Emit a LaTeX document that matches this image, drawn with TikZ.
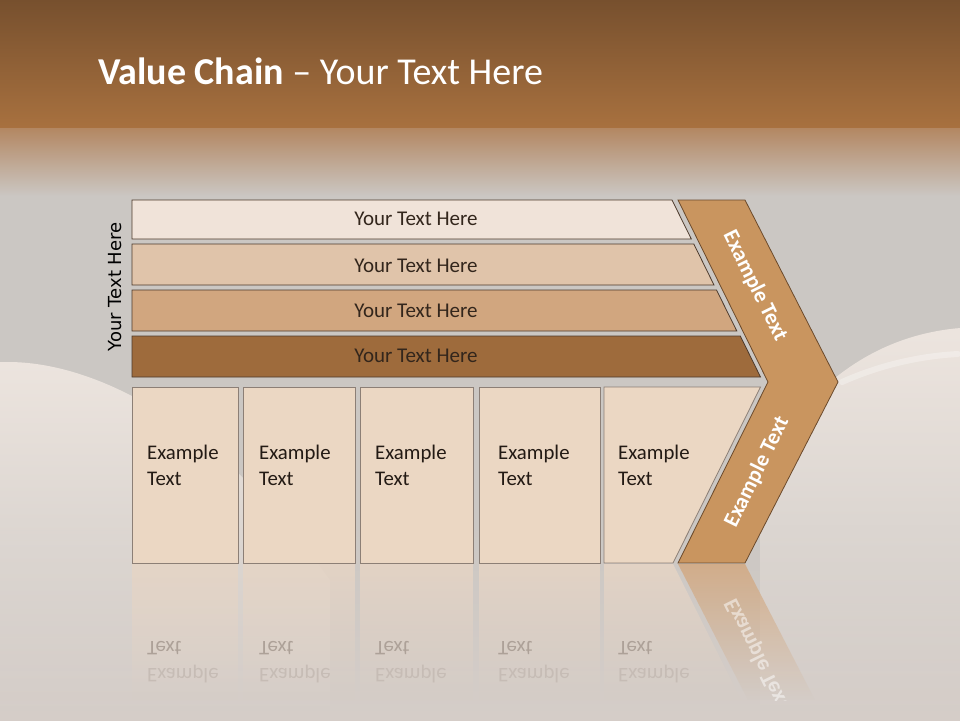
\documentclass[tikz,border=0pt]{standalone}
\usepackage{fontspec}
\usetikzlibrary{fadings}
\setmainfont{Carlito}
\newfontfamily\dejavu{DejaVu Sans}
\definecolor{bgcol}{HTML}{CBC7C3}
\definecolor{bgbot}{HTML}{D5CDC8}
\definecolor{hdrA}{HTML}{77502E}
\definecolor{hdrB}{HTML}{A8713F}
\definecolor{hdrC}{HTML}{B38762}
\definecolor{hillhi}{HTML}{EDE5DF}
\definecolor{bA}{HTML}{F0E3D9}
\definecolor{bB}{HTML}{E0C4AA}
\definecolor{bC}{HTML}{D1A67F}
\definecolor{bD}{HTML}{9E6B3C}
\definecolor{barline}{HTML}{4D3A2C}
\definecolor{colfill}{HTML}{EBD7C3}
\definecolor{colline}{HTML}{8C7F76}
\definecolor{chev}{HTML}{C9955F}
\definecolor{chevline}{HTML}{6B4A2C}
\definecolor{bartxt}{HTML}{33261C}
\definecolor{coltxt}{HTML}{231A14}
\definecolor{reflcol}{HTML}{E5D4C5}
\definecolor{reflchev}{HTML}{D2AA84}
\definecolor{refltxtA}{HTML}{ADA198}
\definecolor{refltxtB}{HTML}{C6BCB5}
\tikzfading[name=hillfade, top color=transparent!0, bottom color=transparent!100]
\tikzset{
  bar/.style={draw=barline, line width=0.8pt},
  colbox/.style={draw=colline, fill=colfill, line width=0.8pt},
  bartext/.style={font=\fontsize{21}{25}\selectfont, text=bartxt, inner sep=0},
  coltext/.style={font=\fontsize{20.8}{26}\selectfont, text=coltxt, align=left, anchor=west, inner sep=0},
  chevtext/.style={font=\bfseries\fontsize{22}{26}\selectfont, text=white, inner sep=0},
  refltext/.style={font=\fontsize{20.8}{26}\selectfont, anchor=west, inner sep=0, yscale=-1},
}
\begin{document}
\begin{tikzpicture}[x=1pt,y=-1pt]
\useasboundingbox (0,0) rectangle (960,720);
% background
\fill[bgcol] (0,0) rectangle (960,720);
\shade[top color=hdrA, bottom color=hdrB] (0,0) rectangle (960,128);
\shade[top color=hdrC, bottom color=bgcol] (0,128) rectangle (960,196);
\shade[top color=bgcol, bottom color=bgbot] (0,520) rectangle (960,720);
% hills
\fill[hillhi, path fading=hillfade] (0,362) .. controls (80,358) and (210,410) .. (330,580) -- (330,720) -- (0,720) -- cycle;
\fill[hillhi, path fading=hillfade] (760,470) .. controls (820,362) and (900,333) .. (960,328) -- (960,720) -- (760,720) -- cycle;
\draw[white, opacity=0.3, line width=6pt, line cap=round] (842,382) .. controls (880,365) and (920,356) .. (958,354);
% reflection
\begin{scope}
\clip (0,564) rectangle (960,720);
\foreach \a/\b in {132/238, 243/355, 360/473, 479/600} {
  \fill[reflcol, path fading=hillfade, opacity=0.9] (\a,564) rectangle (\b,700);
}
\fill[reflcol, path fading=hillfade, opacity=0.9] (604,564) -- (673,564) -- (741,700) -- (604,700) -- cycle;
\fill[reflchev, path fading=hillfade, opacity=0.9] (678,564) -- (745,564) -- (815,700) -- (748,700) -- cycle;
\foreach \x [count=\i] in {147,259,375,498,618} {
  \node[refltext, text=refltxtA] (rt\i) at (\x,648) {Text};
  \node[refltext, text=refltxtB] (re\i) at (\x,674) {Example};
}
\begin{scope}
\clip (678,564) -- (745,564) -- (815,700) -- (748,700) -- cycle;
\node[chevtext, yscale=-1, rotate=63.7, text=white, opacity=0.5] (rchev) at (757,654) {Example Text};
\end{scope}
\end{scope}
% bars
\draw[bar, fill=bA] (132,200) -- (672,200) -- (691.3,239) -- (132,239) -- cycle;
\draw[bar, fill=bB] (132,244) -- (693.8,244) -- (714,285) -- (132,285) -- cycle;
\draw[bar, fill=bC] (132,290) -- (716.5,290) -- (736.8,331) -- (132,331) -- cycle;
\draw[bar, fill=bD] (132,336) -- (740.3,336) -- (760.5,377) -- (132,377) -- cycle;
% columns
\draw[colbox] (132,387) rectangle (238,563);
\draw[colbox] (243,387) rectangle (355,563);
\draw[colbox] (360,387) rectangle (473,563);
\draw[colbox] (479,387) rectangle (600,563);
\draw[colbox] (604,387) -- (760.5,387) -- (673,563) -- (604,563) -- cycle;
% chevron
\draw[fill=chev, draw=chevline, line width=0.8pt] (678,200) -- (745,200) -- (838,382) -- (745,563) -- (678,563) -- (768,382) -- cycle;
% texts
\node[anchor=base west, inner sep=0, text=white, font=\fontsize{38}{45}\selectfont] (title) at (98,84) {\textbf{Value Chain} – Your Text Here};
\node[bartext] (t1) at (416,219) {Your Text Here};
\node[bartext] (t2) at (416,266) {Your Text Here};
\node[bartext] (t3) at (416,311) {Your Text Here};
\node[bartext] (t4) at (416,356) {Your Text Here};
\node[font=\dejavu\fontsize{18}{21}\selectfont, rotate=90, inner sep=0] (side) at (115,287) {Your Text Here};
\foreach \x [count=\i] in {147,259,375,498,618} {
  \node[coltext] (c\i) at (\x,465) {Example\\Text};
}
\node[chevtext, rotate=-63.7] (ch1) at (755,286) {Example Text};
\node[chevtext, rotate=63.7] (ch2) at (757,472) {Example Text};
\end{tikzpicture}
\end{document}
